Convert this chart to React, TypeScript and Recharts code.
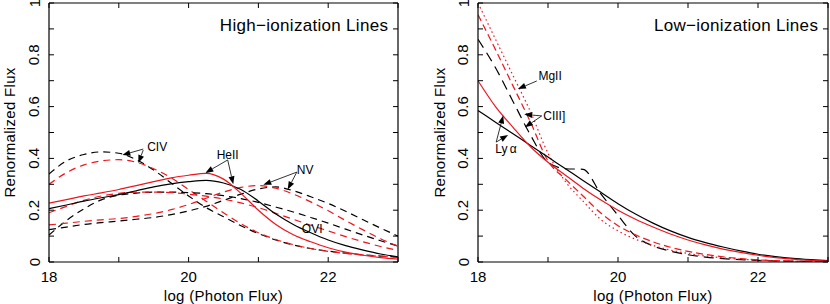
import React from 'react';
import { LineChart, Line, XAxis, YAxis, ReferenceLine, ReferenceDot } from 'recharts';

// log photon flux grid
const logFlux = [18, 18.25, 18.5, 18.75, 19, 19.25, 19.5, 19.75, 20, 20.25, 20.5, 20.75, 21, 21.25, 21.5, 21.75, 22, 22.25, 22.5, 22.75, 23];

// high-ionization lines
const heiiBlack = [0.206, 0.22, 0.235, 0.248, 0.26, 0.275, 0.29, 0.302, 0.31, 0.315, 0.305, 0.28, 0.235, 0.185, 0.145, 0.113, 0.085, 0.063, 0.046, 0.031, 0.02];
const heiiRed = [0.227, 0.241, 0.255, 0.267, 0.28, 0.295, 0.31, 0.325, 0.335, 0.342, 0.32, 0.265, 0.2, 0.145, 0.105, 0.078, 0.055, 0.038, 0.026, 0.017, 0.011];
const civBlack = [0.34, 0.39, 0.415, 0.425, 0.42, 0.395, 0.355, 0.305, 0.255, 0.21, 0.175, 0.14, 0.11, 0.085, 0.066, 0.052, 0.042, 0.034, 0.028, 0.023, 0.019];
const civRed = [0.3, 0.345, 0.375, 0.39, 0.395, 0.385, 0.36, 0.325, 0.28, 0.235, 0.19, 0.148, 0.113, 0.087, 0.067, 0.052, 0.041, 0.033, 0.027, 0.022, 0.018];
const oviBlack = [0.104, 0.16, 0.205, 0.24, 0.258, 0.266, 0.27, 0.27, 0.268, 0.264, 0.256, 0.245, 0.23, 0.212, 0.193, 0.172, 0.15, 0.127, 0.104, 0.082, 0.062];
const oviRed = [0.19, 0.215, 0.238, 0.255, 0.265, 0.27, 0.27, 0.268, 0.262, 0.254, 0.243, 0.228, 0.21, 0.188, 0.165, 0.142, 0.12, 0.098, 0.078, 0.06, 0.045];
const nvBlack = [0.125, 0.135, 0.145, 0.152, 0.158, 0.165, 0.172, 0.183, 0.197, 0.215, 0.238, 0.262, 0.282, 0.29, 0.275, 0.252, 0.226, 0.196, 0.163, 0.131, 0.1];
const nvRed = [0.143, 0.15, 0.157, 0.163, 0.168, 0.176, 0.187, 0.202, 0.222, 0.246, 0.27, 0.288, 0.295, 0.285, 0.262, 0.232, 0.198, 0.16, 0.124, 0.09, 0.06];

// low-ionization lines
const lyaBlack = [0.585, 0.54, 0.495, 0.45, 0.405, 0.36, 0.315, 0.27, 0.225, 0.185, 0.15, 0.12, 0.095, 0.075, 0.058, 0.043, 0.03, 0.021, 0.014, 0.009, 0.005];
const lyaRed = [0.7, 0.6, 0.52, 0.445, 0.385, 0.335, 0.285, 0.24, 0.2, 0.165, 0.135, 0.108, 0.085, 0.066, 0.05, 0.037, 0.026, 0.017, 0.011, 0.006, 0.003];
const ciiiBlack = [0.86, 0.75, 0.62, 0.49, 0.385, 0.36, 0.358, 0.265, 0.18, 0.1, 0.062, 0.042, 0.028, 0.019, 0.013, 0.009, 0.006, 0.004, 0.003, 0.002, 0.001];
const ciiiRed = [0.955, 0.82, 0.68, 0.54, 0.39, 0.32, 0.255, 0.19, 0.14, 0.105, 0.078, 0.057, 0.041, 0.029, 0.02, 0.013, 0.008, 0.005, 0.003, 0.002, 0.001];
const mgiiRed = [1.0, 0.86, 0.72, 0.58, 0.42, 0.31, 0.235, 0.165, 0.12, 0.088, 0.064, 0.046, 0.033, 0.023, 0.016, 0.011, 0.007, 0.005, 0.003, 0.002, 0.001];

const xTicks = [18, 19, 20, 21, 22, 23];
const yTicks = [0, 0.1, 0.2, 0.3, 0.4, 0.5, 0.6, 0.7, 0.8, 0.9, 1];

const FONT = '"Liberation Sans", Arial, Helvetica, sans-serif';
const RED = '#f0141e';
const TOP = 3;
const BOTTOM = 262;

const highData = logFlux.map((x, i) => ({
  x,
  heiiBlack: heiiBlack[i], heiiRed: heiiRed[i],
  civBlack: civBlack[i], civRed: civRed[i],
  oviBlack: oviBlack[i], oviRed: oviRed[i],
  nvBlack: nvBlack[i], nvRed: nvRed[i],
}));

const lowData = logFlux.map((x, i) => ({
  x,
  lyaBlack: lyaBlack[i], lyaRed: lyaRed[i],
  ciiiBlack: ciiiBlack[i], ciiiRed: ciiiRed[i],
  mgiiRed: mgiiRed[i],
}));

const highLines = [
  { key: 'civBlack', color: '#000', dash: '7 5' },
  { key: 'civRed', color: RED, dash: '7 5' },
  { key: 'oviBlack', color: '#000', dash: '7 5' },
  { key: 'oviRed', color: RED, dash: '7 5' },
  { key: 'nvBlack', color: '#000', dash: '7 5' },
  { key: 'nvRed', color: RED, dash: '7 5' },
  { key: 'heiiBlack', color: '#000', dash: undefined },
  { key: 'heiiRed', color: RED, dash: undefined },
];

const lowLines = [
  { key: 'ciiiBlack', color: '#000', dash: '10 6' },
  { key: 'ciiiRed', color: RED, dash: '7 4' },
  { key: 'mgiiRed', color: RED, dash: '1.5 3' },
  { key: 'lyaBlack', color: '#000', dash: undefined },
  { key: 'lyaRed', color: RED, dash: undefined },
];

// labels: [text, x, y, anchor]
const highLabels: [string, number, number, string][] = [
  ['CIV', 19.55, 0.444, 'middle'],
  ['HeII', 20.56, 0.413, 'middle'],
  ['NV', 21.67, 0.355, 'middle'],
  ['OVI', 21.77, 0.127, 'middle'],
];
// arrows: [fromX, fromY, toX, toY]
const highArrows = [
  [19.35, 0.436, 19.05, 0.413],
  [19.35, 0.432, 19.28, 0.382],
  [20.56, 0.394, 20.24, 0.344],
  [20.56, 0.394, 20.64, 0.3],
  [21.55, 0.347, 21.07, 0.298],
  [21.55, 0.347, 21.42, 0.28],
];

const lowLabels: [string, number, number, string][] = [
  ['MgII', 19.03, 0.718, 'middle'],
  ['CIII]', 19.09, 0.564, 'middle'],
  ['Ly\u2009\u03b1', 18.4, 0.436, 'middle'],
];
const lowArrows = [
  [18.84, 0.699, 18.57, 0.668],
  [18.91, 0.564, 18.66, 0.57],
  [18.91, 0.564, 18.67, 0.52],
  [18.26, 0.463, 18.36, 0.566],
  [18.26, 0.463, 18.43, 0.49],
];

const Arrow = (props: any) => {
  const { x1, y1, x2, y2 } = props;
  const a = Math.atan2(y2 - y1, x2 - x1);
  const len = 8;
  const w = 3;
  const bx = x2 - len * Math.cos(a);
  const by = y2 - len * Math.sin(a);
  const px = -Math.sin(a) * w;
  const py = Math.cos(a) * w;
  return (
    <g>
      <line x1={x1} y1={y1} x2={bx} y2={by} stroke="#000" strokeWidth={0.8} />
      <polygon points={`${x2},${y2} ${bx + px},${by + py} ${bx - px},${by - py}`} fill="#000" />
    </g>
  );
};

const makeXTick = () => (props: any) => {
  const { x, payload } = props;
  const v = payload.value;
  return (
    <g>
      <line x1={x} x2={x} y1={BOTTOM} y2={BOTTOM - 5} stroke="#000" />
      <line x1={x} x2={x} y1={TOP} y2={TOP + 5} stroke="#000" />
      {v % 2 === 0 && v < 23 && (
        <text x={x} y={BOTTOM + 14} textAnchor="middle" dominantBaseline="central" fontSize={15} fontFamily={FONT} fill="#000">
          {v}
        </text>
      )}
    </g>
  );
};

const makeYTick = (left: number, right: number) => (props: any) => {
  const { y, payload } = props;
  const v = Math.round(payload.value * 10) / 10;
  const show = Math.round(v * 10) % 2 === 0;
  const lx = left - 15;
  return (
    <g>
      <line x1={left} x2={left + 5} y1={y} y2={y} stroke="#000" />
      <line x1={right} x2={right - 5} y1={y} y2={y} stroke="#000" />
      {show && (
        <text x={lx} y={y} transform={`rotate(-90 ${lx} ${y})`} textAnchor="middle" dominantBaseline="central" fontSize={15} fontFamily={FONT} fill="#000">
          {String(v)}
        </text>
      )}
    </g>
  );
};

const Panel = ({ data, lines, title, labels, arrows, yAxisWidth }: any) => {
  const plotLeft = yAxisWidth;
  const plotRight = 398;
  return (
    <LineChart width={400} height={304} data={data} margin={{ top: TOP, right: 2, left: 0, bottom: 0 }}>
      <XAxis
        dataKey="x"
        type="number"
        domain={[18, 23]}
        ticks={xTicks}
        interval={0}
        allowDataOverflow
        height={42}
        tickLine={false}
        axisLine={{ stroke: '#000', strokeWidth: 1.2 }}
        tick={makeXTick()}
        label={{ value: 'log (Photon Flux)', position: 'insideBottom', offset: 3, style: { fontSize: 15, fontFamily: FONT, fill: '#000', letterSpacing: 0.3 } }}
      />
      <YAxis
        type="number"
        domain={[0, 1]}
        ticks={yTicks}
        interval={0}
        allowDataOverflow
        width={yAxisWidth}
        tickLine={false}
        axisLine={{ stroke: '#000', strokeWidth: 1.2 }}
        tick={makeYTick(plotLeft, plotRight)}
        label={{ value: 'Renormalized Flux', angle: -90, position: 'insideLeft', offset: 10, style: { fontSize: 15, fontFamily: FONT, fill: '#000', textAnchor: 'middle', letterSpacing: 0.3 } }}
      />
      <ReferenceLine y={1} stroke="#000" strokeWidth={1.2} />
      <ReferenceLine x={23} stroke="#000" strokeWidth={1.2} />
      {lines.map((l: any) => (
        <Line
          key={l.key}
          dataKey={l.key}
          type="monotone"
          stroke={l.color}
          strokeWidth={1.2}
          strokeDasharray={l.dash}
          dot={false}
          activeDot={false}
          isAnimationActive={false}
        />
      ))}
      {arrows.map((a: number[], i: number) => (
        <ReferenceLine key={'a' + i} segment={[{ x: a[0], y: a[1] }, { x: a[2], y: a[3] }]} shape={Arrow} ifOverflow="visible" />
      ))}
      {labels.map((l: any, i: number) => (
        <ReferenceDot
          key={'l' + i}
          x={l[1]}
          y={l[2]}
          r={0}
          ifOverflow="visible"
          shape={(p: any) => (
            <text x={p.cx} y={p.cy} textAnchor={l[3]} dominantBaseline="central" fontSize={12} fontFamily={FONT} fill="#000">
              {l[0]}
            </text>
          )}
        />
      ))}
      <ReferenceDot
        x={22.86}
        y={0.915}
        r={0}
        ifOverflow="visible"
        shape={(p: any) => (
          <text x={p.cx} y={p.cy} textAnchor="end" dominantBaseline="central" fontSize={17} fontFamily={FONT} fill="#000" letterSpacing={0.3}>
            {title}
          </text>
        )}
      />
    </LineChart>
  );
};

export default function App() {
  return (
    <div style={{ position: 'absolute', left: 0, top: 0, width: 830, height: 304, background: '#fff', fontFamily: FONT }}>
      <div style={{ position: 'absolute', left: 0, top: 0 }}>
        <Panel data={highData} lines={highLines} title={'High\u2212ionization Lines'} labels={highLabels} arrows={highArrows} yAxisWidth={49} />
      </div>
      <div style={{ position: 'absolute', left: 430, top: 0 }}>
        <Panel data={lowData} lines={lowLines} title={'Low\u2212ionization Lines'} labels={lowLabels} arrows={lowArrows} yAxisWidth={48} />
      </div>
    </div>
  );
}
